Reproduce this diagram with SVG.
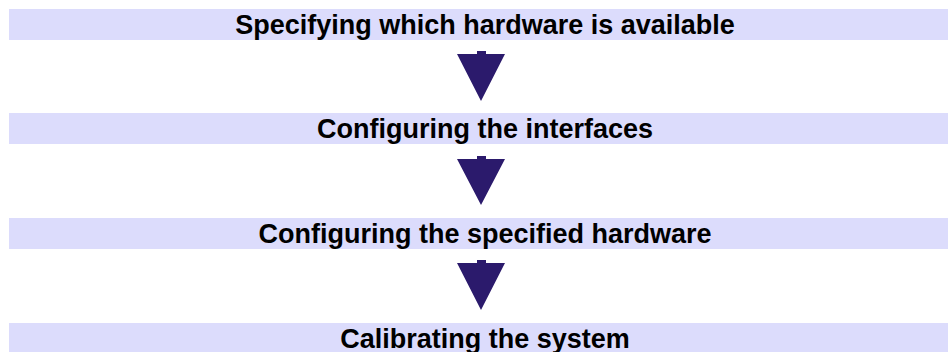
<svg xmlns="http://www.w3.org/2000/svg" width="948" height="352" viewBox="0 0 948 352">
<style>
.bar{fill:#dcdcfc}
.lbl{font-family:"Liberation Sans",Arial,sans-serif;font-weight:bold;font-size:27px;fill:#000;text-anchor:middle}
.arr{fill:#2b1a6c}
</style>
<rect width="948" height="352" fill="#fff"/>
<g id="step1"><rect class="bar" x="9" y="9" width="939" height="31"/><text class="lbl" x="485" y="33.5">Specifying which hardware is available</text></g>
<g id="step2"><rect class="bar" x="9" y="113" width="939" height="31"/><text class="lbl" x="485" y="137.5">Configuring the interfaces</text></g>
<g id="step3"><rect class="bar" x="9" y="218" width="939" height="31"/><text class="lbl" x="485" y="242.5">Configuring the specified hardware</text></g>
<g id="step4"><rect class="bar" x="9" y="323" width="939" height="29"/><text class="lbl" x="485" y="347.5">Calibrating the system</text></g>
<g id="connectors">
<path class="arr" d="M477 51H486V54H505L481 101L457 54H477Z"/>
<path class="arr" d="M477 156H486V159H505L481 205L457 159H477Z"/>
<path class="arr" d="M477 260H486V263H505L481 310L457 263H477Z"/>
</g>
</svg>
